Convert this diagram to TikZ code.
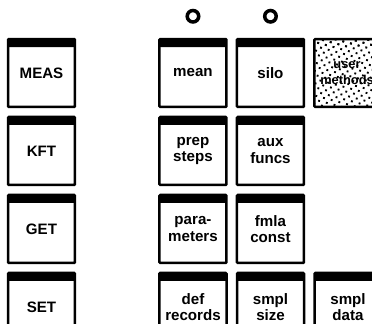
\documentclass[tikz,border=0pt]{standalone}
\usepackage{fontspec}
\setmainfont{Liberation Sans}
\usepackage{tikz}
\usetikzlibrary{positioning,patterns.meta}

\begin{document}
\begin{tikzpicture}[
    x=0.02cm, y=-0.02cm,
    node distance=0.15cm and 0.16cm,
    every node/.style={font=\fontsize{8.6}{9.2}\selectfont\bfseries},
    key/.style={rectangle, draw, line width=0.05cm, rounded corners=0.5pt, minimum width=1.34cm, minimum height=1.36cm, align=center,
        path picture={\fill (path picture bounding box.north west) rectangle ([yshift=-0.16cm]path picture bounding box.north east);}},
    dotted key/.style={key, minimum width=1.26cm, font=\fontsize{7.3}{9.2}\selectfont\bfseries,
        pattern={Dots[distance=3.2pt, radius=0.75pt, angle=30]}},
    lamp/.style={circle, draw, line width=0.07cm, minimum size=0.23cm, inner sep=0pt}
]
\useasboundingbox (0,0) rectangle (372,324);
\clip (0,0) rectangle (372,324);

% Left column: command keys
\node[key] (meas) at (41.5,73) {MEAS};
\node[key, below=of meas] (kft) {KFT};
\node[key, below=of kft] (get) {GET};
\node[key, below=of get] (set) {SET};

% Row 1
\node[key, right=1.64cm of meas] (mean) {mean};
\node[key, right=of mean] (silo) {silo};
\node[dotted key, right=of silo] (user) {user\\methods};

% Row 2
\node[key, below=of mean] (prep) {prep\\steps};
\node[key, right=of prep] (aux) {aux\\funcs};

% Row 3
\node[key, below=of prep] (param) {para-\\meters};
\node[key, right=of param] (fmla) {fmla\\const};

% Row 4
\node[key, below=of param] (defrec) {def\\records};
\node[key, right=of defrec] (size) {smpl\\size};
\node[key, right=of size] (data) {smpl\\data};

% Lamps
\node[lamp, above=0.28cm of mean] (meanlamp) {};
\node[lamp, above=0.28cm of silo] (silolamp) {};

\end{tikzpicture}
\end{document}
